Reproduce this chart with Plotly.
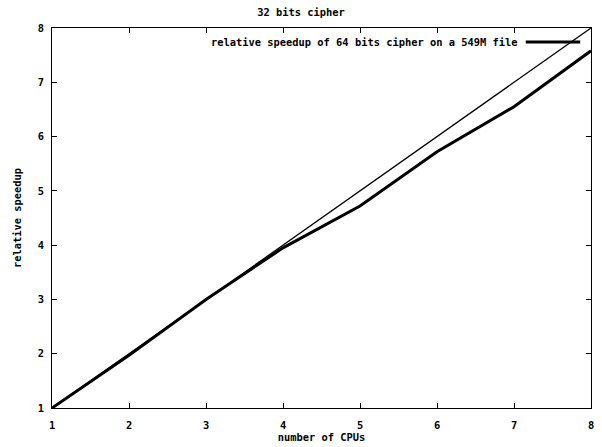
import plotly.graph_objects as go

cpus = [1, 2, 3, 4, 5, 6, 7, 8]
ideal_speedup = [1, 2, 3, 4, 5, 6, 7, 8]
speedup_64 = [1, 1.97, 3.0, 3.95, 4.72, 5.72, 6.55, 7.58]
tick_values = [1, 2, 3, 4, 5, 6, 7, 8]
legend_label = "relative speedup of 64 bits cipher on a 549M file"

FAM = "DejaVu Sans Mono"
FONT = dict(family=FAM, size=10.4, color="black")

fig = go.Figure()
fig.add_trace(go.Scatter(x=cpus, y=ideal_speedup, mode="lines",
                         line=dict(color="black", width=1.3), showlegend=False))
fig.add_trace(go.Scatter(x=cpus, y=speedup_64, mode="lines",
                         line=dict(color="black", width=3), showlegend=False))

tick_text = ["<b>%d</b>" % v for v in tick_values]
axis_common = dict(showline=True, linecolor="black", linewidth=1, mirror="allticks",
                   ticks="inside", ticklen=5, tickcolor="black", showgrid=False,
                   zeroline=False, tickvals=tick_values, ticktext=tick_text,
                   automargin=False,
                   tickfont=dict(family=FAM, size=10.4, color="black"))
fig.update_layout(
    width=602, height=447,
    margin=dict(l=52, r=11, t=28, b=39),
    paper_bgcolor="white", plot_bgcolor="white",
    font=FONT,
    title=dict(text="<b>32 bits cipher</b>", x=0.5, xanchor="center", y=0.972,
               yanchor="middle", font=dict(family=FAM, size=10.4)),
    xaxis=dict(range=[1, 8], ticklabelstandoff=8,
               title=dict(text="<b>number of CPUs</b>", standoff=3,
                          font=dict(family=FAM, size=10.4)), **axis_common),
    yaxis=dict(range=[1, 8], ticklabelstandoff=5,
               title=dict(text="<b>relative speedup</b>", standoff=14,
                          font=dict(family=FAM, size=10.4)), **axis_common),
    showlegend=False,
)
fig.add_annotation(text="<b>" + legend_label + "</b>", xref="paper", yref="paper",
                   x=0.868, y=0.963, xanchor="right", yanchor="middle",
                   showarrow=False, font=dict(family=FAM, size=10.4))
fig.add_shape(type="line", xref="paper", yref="paper", x0=0.879, x1=0.98,
              y0=0.963, y1=0.963, line=dict(color="black", width=3))

fig.write_html("out.html")
